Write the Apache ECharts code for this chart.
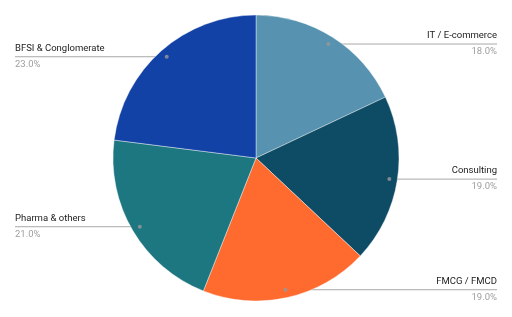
<!DOCTYPE html>
<html><head><meta charset="utf-8">
<script src="https://cdn.jsdelivr.net/npm/echarts@6/dist/echarts.min.js"></script>
<style>html,body{margin:0;padding:0;background:#fff}#c{width:512px;height:317px}</style>
</head><body><div id="c"></div>
<script>
const categories = ['IT / E-commerce', 'Consulting', 'FMCG / FMCD', 'Pharma & others', 'BFSI & Conglomerate'];
const values = [18, 19, 19, 21, 23];
const colors = ['#5793b0', '#0e4b65', '#ff6b2e', '#1d7781', '#1342a7'];

const total = values.reduce((a, b) => a + b, 0);
const data = categories.map((n, i) => ({ name: n, value: values[i] }));
// midpoints (percent of circle) for leader-line dots
let cum = 0;
const mids = values.map(v => { const m = cum + v / 2; cum += v; return m / total * 100; });

const CX = 256, CY = 158, R = 143, RD = 135;
const chart = echarts.init(document.getElementById('c'), null, { renderer: 'canvas' });
chart.setOption({
  animation: false,
  color: colors,
  polar: { center: [CX, CY], radius: R },
  angleAxis: { type: 'value', min: 0, max: 100, startAngle: 90, clockwise: true, show: false },
  radiusAxis: { type: 'value', min: 0, max: R, show: false },
  series: [
    {
      type: 'pie', center: [CX, CY], radius: R, startAngle: 90, clockwise: true,
      data: data, label: { show: false }, labelLine: { show: false },
      itemStyle: { borderColor: '#fff', borderWidth: 0.4 }, silent: true
    },
    {
      type: 'pie', center: [CX, CY], radius: RD, startAngle: 90, clockwise: true,
      data: data, silent: true,
      itemStyle: { color: 'rgba(0,0,0,0)' },
      label: {
        show: true, position: 'outside',
        formatter: p => '{n|' + p.name + '}\n{p|' + p.value.toFixed(1) + '%}',
        rich: {
          n: { fontFamily: 'Roboto', fontSize: 9.5, color: '#222', lineHeight: 16 },
          p: { fontFamily: 'Roboto', fontSize: 9.5, color: '#9e9e9e', lineHeight: 16 }
        }
      },
      labelLine: { show: true, length: 0, length2: 10, lineStyle: { color: '#a8a8a8', width: 1 } },
      labelLayout: function (params) {
        const s = params.labelLinePoints[0];
        const left = s[0] < CX;
        const ex = left ? 15 : 497;
        return {
          x: ex, y: s[1], align: left ? 'left' : 'right', verticalAlign: 'middle',
          labelLinePoints: [s, s, [ex, s[1]]]
        };
      }
    },
    {
      type: 'scatter', coordinateSystem: 'polar', silent: true,
      symbol: 'circle', symbolSize: 4,
      itemStyle: { color: '#999' },
      data: mids.map(m => [RD, m])
    }
  ]
});
</script></body></html>
